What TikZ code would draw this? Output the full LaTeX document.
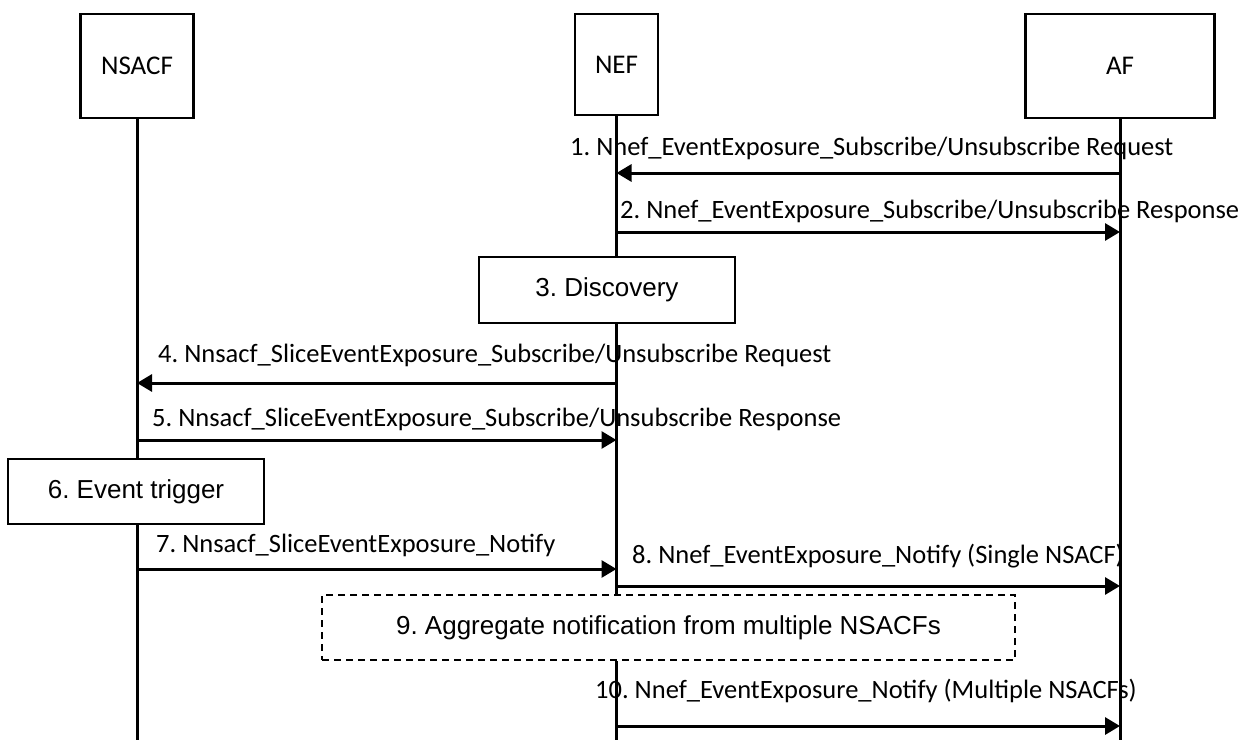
\documentclass[tikz,border=0pt]{standalone}
\usepackage{fontspec}
\setmainfont{Carlito}
\newfontfamily\arialf{Liberation Sans}
\usetikzlibrary{arrows.meta}
\frenchspacing
\begin{document}
\frenchspacing
\begin{tikzpicture}[x=1pt,y=-1pt,
  entity/.style={draw,line width=2.5pt,inner sep=0,font=\fontsize{27}{30}\selectfont},
  stepbox/.style={draw,line width=2.5pt,fill=white,inner sep=0,font=\arialf\fontsize{26}{30}\selectfont},
  optbox/.style={stepbox,dash pattern=on 7pt off 5pt,line width=2pt},
  life/.style={line width=3pt},
  msg/.style={line width=3pt,-{Triangle[length=15pt,width=17pt]}},
  lbl/.style={anchor=base west,inner sep=0,font=\fontsize{26.5}{30}\selectfont}]
\useasboundingbox (0,0) rectangle (1252,740);
% entities
\node[entity,minimum width=113pt,minimum height=104pt] (nsacf) at (137,66) {NSACF};
\node[entity,minimum width=83pt,minimum height=101pt] (nef) at (616.5,64.5) {NEF};
\node[entity,minimum width=189pt,minimum height=104pt] (af) at (1120,66) {AF};
\coordinate (bot) at (0,740);
% step boxes
\node[stepbox,minimum width=256pt,minimum height=66pt] (disc) at (607,290) {3. Discovery};
\node[stepbox,minimum width=256pt,minimum height=65pt] (evt) at (136,491.5) {6. Event trigger};
\node[optbox,minimum width=693pt,minimum height=65pt] (agg) at (668.5,627.5) {9. Aggregate notification from multiple NSACFs};
% lifelines
\draw[life] (nsacf.south) -- (nsacf.south |- evt.north);
\draw[life] (nsacf.south |- evt.south) -- (nsacf.south |- bot);
\draw[life] (nef.south) -- (nef.south |- disc.north);
\draw[life] (nef.south |- disc.south) -- (nef.south |- agg.north);
\draw[life] (nef.south |- agg.south) -- (nef.south |- bot);
\draw[life] (af.south) -- (af.south |- bot);
% message rows
\coordinate (m1) at (0,173);
\coordinate (m2) at (0,232);
\coordinate (m4) at (0,383);
\coordinate (m5) at (0,440);
\coordinate (m7) at (0,569);
\coordinate (m8) at (0,586);
\coordinate (m10) at (0,726);
\draw[msg] (af.south |- m1) -- (nef.south |- m1);
\draw[msg] (nef.south |- m2) -- (af.south |- m2);
\draw[msg] (nef.south |- m4) -- (nsacf.south |- m4);
\draw[msg] (nsacf.south |- m5) -- (nef.south |- m5);
\draw[msg] (nsacf.south |- m7) -- (nef.south |- m7);
\draw[msg] (nef.south |- m8) -- (af.south |- m8);
\draw[msg] (nef.south |- m10) -- (af.south |- m10);
% labels
\node[lbl] (l1) at (570,155) {1. Nnef\_EventExposure\_Subscribe/Unsubscribe Request};
\node[lbl] (l2) at (620,218) {2. Nnef\_EventExposure\_Subscribe/Unsubscribe Response};
\node[lbl] (l4) at (158,362) {4. Nnsacf\_SliceEventExposure\_Subscribe/Unsubscribe Request};
\node[lbl] (l5) at (152,426) {5. Nnsacf\_SliceEventExposure\_Subscribe/Unsubscribe Response};
\node[lbl] (l7) at (156,552) {7. Nnsacf\_SliceEventExposure\_Notify};
\node[lbl] (l8) at (632,563) {8. Nnef\_EventExposure\_Notify (Single NSACF)};
\node[lbl] (l10) at (595,698) {10. Nnef\_EventExposure\_Notify (Multiple NSACFs)};
\end{tikzpicture}
\end{document}
